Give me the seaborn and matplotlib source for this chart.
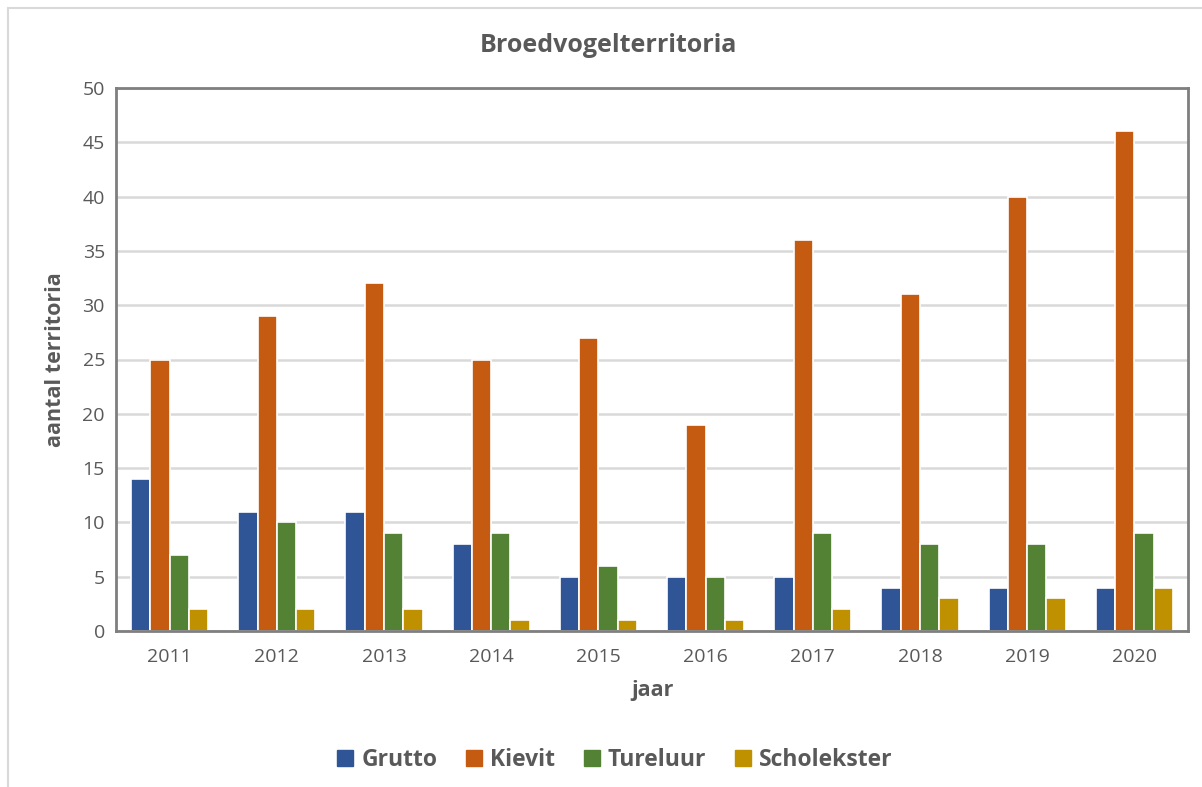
import matplotlib
matplotlib.use("Agg")
import matplotlib.pyplot as plt
import seaborn as sns
import pandas as pd
from matplotlib.lines import Line2D

years = ["2011", "2012", "2013", "2014", "2015", "2016", "2017", "2018", "2019", "2020"]
grutto = [14, 11, 11, 8, 5, 5, 5, 4, 4, 4]
kievit = [25, 29, 32, 25, 27, 19, 36, 31, 40, 46]
tureluur = [7, 10, 9, 9, 6, 5, 9, 8, 8, 9]
scholekster = [2, 2, 2, 1, 1, 1, 2, 3, 3, 4]
series_names = ["Grutto", "Kievit", "Tureluur", "Scholekster"]
colors = ["#2F5597", "#C55A11", "#548235", "#BF9000"]

rows = []
for name, vals in zip(series_names, [grutto, kievit, tureluur, scholekster]):
    for y, v in zip(years, vals):
        rows.append({"jaar": y, "soort": name, "aantal": v})
df = pd.DataFrame(rows)

sns.set_style("white")
plt.rcParams['font.family'] = ['Open Sans', 'DejaVu Sans']
txt = "#595959"

fig = plt.figure(figsize=(12.02, 7.87), dpi=100)
ax = fig.add_axes([116/1202, 1-631/787, (1188-116)/1202, (631-88)/787])

sns.barplot(data=df, x="jaar", y="aantal", hue="soort", hue_order=series_names,
            palette=colors, saturation=1, width=0.72, edgecolor="white", linewidth=1.2,
            ax=ax, legend=False, zorder=2)

ax.set_ylim(0, 50)
ax.set_yticks(range(0, 51, 5))
ax.set_xlim(-0.5, len(years) - 0.5)
ax.yaxis.grid(True, color="#D9D9D9", linewidth=1.8, zorder=0)
ax.set_axisbelow(True)
for s in ax.spines.values():
    s.set_visible(True)
    s.set_color("#7F7F7F")
    s.set_linewidth(2)
    s.set_zorder(4)
ax.tick_params(axis="both", length=0, labelsize=14, colors=txt, pad=8)
ax.tick_params(axis="x", pad=12)
ax.set_xlabel("jaar", fontsize=15.5, fontweight="bold", color=txt, labelpad=10)
ax.set_ylabel("aantal territoria", fontsize=15.5, fontweight="bold", color=txt, labelpad=12)

fig.text(608/1202, 1-45/787, "Broedvogelterritoria", ha="center", va="center",
         fontsize=18, fontweight="bold", color=txt)

handles = [Line2D([0], [0], marker="s", linestyle="none", markersize=12,
                  markerfacecolor=c, markeredgecolor=c) for c in colors]
leg = fig.legend(handles, series_names, loc="center", bbox_to_anchor=(612/1202, 1-760/787),
                 ncol=4, frameon=False, fontsize=16.5, handletextpad=0.1, columnspacing=1.0,
                 handlelength=1.2)
for t in leg.get_texts():
    t.set_fontweight("bold")
    t.set_color(txt)

# outer chart border (left and top visible)
fig.add_artist(Line2D([8/1202, 8/1202], [0, 1-8/787], transform=fig.transFigure,
                      color="#D9D9D9", linewidth=1.5))
fig.add_artist(Line2D([8/1202, 1], [1-8/787, 1-8/787], transform=fig.transFigure,
                      color="#D9D9D9", linewidth=1.5))

fig.savefig("out.png", dpi=100, facecolor="white")
